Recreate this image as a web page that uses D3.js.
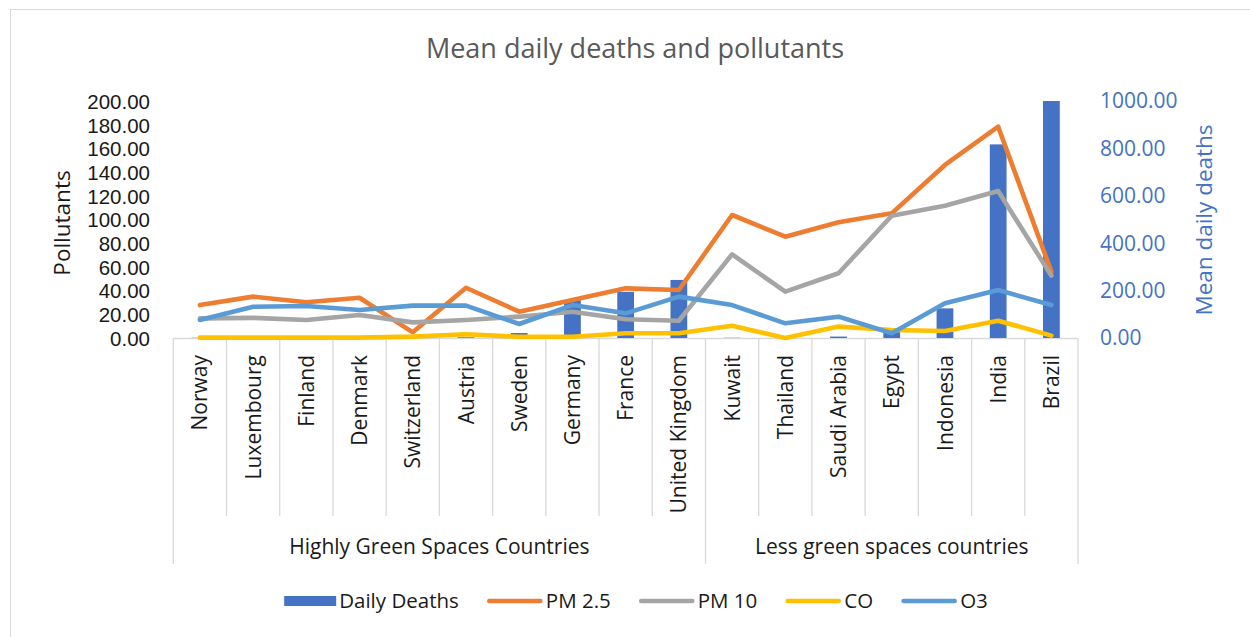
<!DOCTYPE html>
<html>
<head>
<meta charset="utf-8">
<script src="https://cdn.jsdelivr.net/npm/d3@7"></script>
<style>
  html, body { margin: 0; padding: 0; background: #fff; }
  svg { display: block; font-family: "Open Sans", "Noto Sans", sans-serif; }
</style>
</head>
<body>
<svg id="chart" width="1250" height="637"></svg>
<script>
// Countries on the category axis, in plotting order
const countries = ["Norway", "Luxembourg", "Finland", "Denmark", "Switzerland", "Austria",
  "Sweden", "Germany", "France", "United Kingdom", "Kuwait", "Thailand", "Saudi Arabia",
  "Egypt", "Indonesia", "India", "Brazil"];

// Outer grouping of the category axis
const groupNames = ["Highly Green Spaces Countries", "Less green spaces countries"];
const groupSizes = [10, 7];

// Mean daily deaths (right axis)
const dailyDeaths = [1, 1, 2, 2, 3, 3, 21, 160, 195, 245, 1, 2, 6, 30, 125, 817, 1000];

// Pollutant concentrations (left axis)
const pm25 = [27.8, 34.9, 30.1, 34.0, 4.8, 42.4, 22.2, 32.1, 41.9, 40.5, 103.8, 85.5, 97.6, 105.2, 146.0, 178.3, 56.0];
const pm10 = [16.6, 17.0, 15.2, 19.4, 13.2, 15.2, 18.0, 22.2, 15.8, 14.6, 70.6, 39.1, 54.6, 103.2, 111.6, 124.0, 52.6];
const co   = [0.3, 0.3, 0.3, 0.3, 1.2, 3.2, 1.0, 1.0, 4.0, 4.0, 10.4, 0.0, 9.6, 6.7, 5.9, 14.6, 2.0];
const o3   = [15.2, 26.4, 27.0, 23.6, 27.3, 27.3, 11.8, 27.8, 20.8, 34.9, 27.8, 12.4, 18.0, 4.0, 29.3, 40.5, 27.8];

// Axis tick values
const leftTicks = [0, 20, 40, 60, 80, 100, 120, 140, 160, 180, 200];
const rightTicks = [0, 200, 400, 600, 800, 1000];

const lineSeries = [
  { name: "PM 2.5", values: pm25, color: "#ED7D31" },
  { name: "PM 10", values: pm10, color: "#A5A5A5" },
  { name: "CO", values: co, color: "#FFC000" },
  { name: "O3", values: o3, color: "#5B9BD5" }
];

const barColor = "#4472C4";
const gridColor = "#D9D9D9";
const svg = d3.select("#chart");

// Chart frame (top and left edges are visible)
svg.append("rect").attr("x", 0).attr("y", 0).attr("width", 1250).attr("height", 637).attr("fill", "#fff");
svg.append("line").attr("x1", 10).attr("x2", 1250).attr("y1", 9.5).attr("y2", 9.5)
  .attr("stroke", gridColor).attr("stroke-width", 1);
svg.append("line").attr("x1", 10.5).attr("x2", 10.5).attr("y1", 9).attr("y2", 637)
  .attr("stroke", gridColor).attr("stroke-width", 1);

const plot = { left: 173.3, right: 1078, top: 101, bottom: 338 };

const x = d3.scaleBand().domain(countries).range([plot.left, plot.right]).padding(0);
const yLeft = d3.scaleLinear().domain([0, 200]).range([plot.bottom, plot.top]);
const yRight = d3.scaleLinear().domain([0, 1000]).range([plot.bottom, plot.top]);
const cx = c => x(c) + x.bandwidth() / 2;

// Title
svg.append("text")
  .attr("x", 635).attr("y", 58)
  .attr("text-anchor", "middle")
  .attr("font-size", 27)
  .attr("fill", "#595959")
  .text("Mean daily deaths and pollutants");

// Category axis: baseline, separators and group dividers
const catAxis = svg.append("g");
catAxis.append("line")
  .attr("x1", plot.left).attr("x2", plot.right)
  .attr("y1", plot.bottom + 0.5).attr("y2", plot.bottom + 0.5)
  .attr("stroke", gridColor).attr("stroke-width", 1.3);

const boundaries = d3.range(countries.length + 1);
const groupEdges = [0];
groupSizes.forEach(s => groupEdges.push(groupEdges[groupEdges.length - 1] + s));
catAxis.selectAll("line.sep")
  .data(boundaries)
  .join("line")
  .attr("class", "sep")
  .attr("x1", i => plot.left + i * x.step())
  .attr("x2", i => plot.left + i * x.step())
  .attr("y1", plot.bottom)
  .attr("y2", i => groupEdges.includes(i) ? 564 : 516)
  .attr("stroke", gridColor).attr("stroke-width", 1.3);

// Rotated country labels
catAxis.selectAll("text.country")
  .data(countries)
  .join("text")
  .attr("class", "country")
  .attr("transform", c => `translate(${cx(c)},355) rotate(-90)`)
  .attr("text-anchor", "end")
  .attr("dy", "0.36em")
  .attr("font-size", 21)
  .attr("fill", "#1a1a1a")
  .text(c => c);

// Group labels
catAxis.selectAll("text.group")
  .data(groupNames)
  .join("text")
  .attr("class", "group")
  .attr("x", (g, i) => plot.left + (groupEdges[i] + groupEdges[i + 1]) / 2 * x.step())
  .attr("y", 547)
  .attr("dy", "0.35em")
  .attr("text-anchor", "middle")
  .attr("font-size", 21)
  .attr("fill", "#1a1a1a")
  .text(g => g);

// Left value axis (compact font so the densely spaced labels stay clear of each other)
const fmt = d3.format(".2f");
const leftAxis = d3.axisLeft(yLeft).tickValues(leftTicks).tickFormat(fmt).tickSize(0).tickPadding(0);
const gl = svg.append("g").attr("transform", "translate(150,0)").call(leftAxis);
gl.select(".domain").remove();
gl.selectAll("text").attr("font-size", 20.5).attr("fill", "#1a1a1a")
  .attr("font-family", "'Liberation Sans', Arial, sans-serif").attr("dy", "0.36em");

// Right value axis
const rightAxis = d3.axisRight(yRight).tickValues(rightTicks).tickFormat(fmt).tickSize(0).tickPadding(0);
const gr = svg.append("g").attr("transform", "translate(1100,0)").call(rightAxis);
gr.select(".domain").remove();
gr.selectAll("text").attr("font-size", 21).attr("fill", barColor)
  .attr("font-family", "'Open Sans', sans-serif").attr("dy", "0.33em");

// Axis titles
svg.append("text")
  .attr("transform", "translate(62,223) rotate(-90)")
  .attr("text-anchor", "middle").attr("dy", "0.35em")
  .attr("font-size", 22.5).attr("fill", "#1a1a1a")
  .text("Pollutants");
svg.append("text")
  .attr("transform", "translate(1204,220) rotate(-90)")
  .attr("text-anchor", "middle").attr("dy", "0.35em")
  .attr("font-size", 22.5).attr("fill", barColor)
  .text("Mean daily deaths");

// Bars: mean daily deaths on the right scale
const barW = x.bandwidth() * 0.315;
svg.append("g").selectAll("rect")
  .data(countries)
  .join("rect")
  .attr("x", c => cx(c) - barW / 2)
  .attr("width", barW)
  .attr("y", (c, i) => yRight(dailyDeaths[i]))
  .attr("height", (c, i) => plot.bottom - yRight(dailyDeaths[i]))
  .attr("fill", barColor);

// Pollutant lines on the left scale
const line = d3.line()
  .x((v, i) => cx(countries[i]))
  .y(v => yLeft(v));
svg.append("g").selectAll("path")
  .data(lineSeries)
  .join("path")
  .attr("d", s => line(s.values))
  .attr("fill", "none")
  .attr("stroke", s => s.color)
  .attr("stroke-width", 4.6)
  .attr("stroke-linejoin", "round")
  .attr("stroke-linecap", "round");

// Legend
const legendItems = [{ name: "Daily Deaths", color: barColor, type: "bar" }]
  .concat(lineSeries.map(s => ({ name: s.name, color: s.color, type: "line" })));
const legend = svg.append("g");
const legendY = 601;
let cursor = 0;
legendItems.forEach(item => {
  const g = legend.append("g").attr("transform", `translate(${cursor},0)`);
  let swatchW;
  if (item.type === "bar") {
    swatchW = 52;
    g.append("rect").attr("x", 0).attr("y", legendY - 5).attr("width", swatchW).attr("height", 10)
      .attr("fill", item.color);
  } else {
    swatchW = 56;
    g.append("line").attr("x1", 2.5).attr("x2", swatchW - 2.5)
      .attr("y1", legendY).attr("y2", legendY)
      .attr("stroke", item.color).attr("stroke-width", 4.6).attr("stroke-linecap", "round");
  }
  const t = g.append("text")
    .attr("x", swatchW + 3).attr("y", legendY).attr("dy", "0.35em")
    .attr("font-size", 20.5).attr("fill", "#1a1a1a")
    .text(item.name);
  cursor += swatchW + 3 + t.node().getComputedTextLength() + 28;
});
const legendWidth = cursor - 28;
legend.attr("transform", `translate(${636 - legendWidth / 2},0)`);
</script>
</body>
</html>
